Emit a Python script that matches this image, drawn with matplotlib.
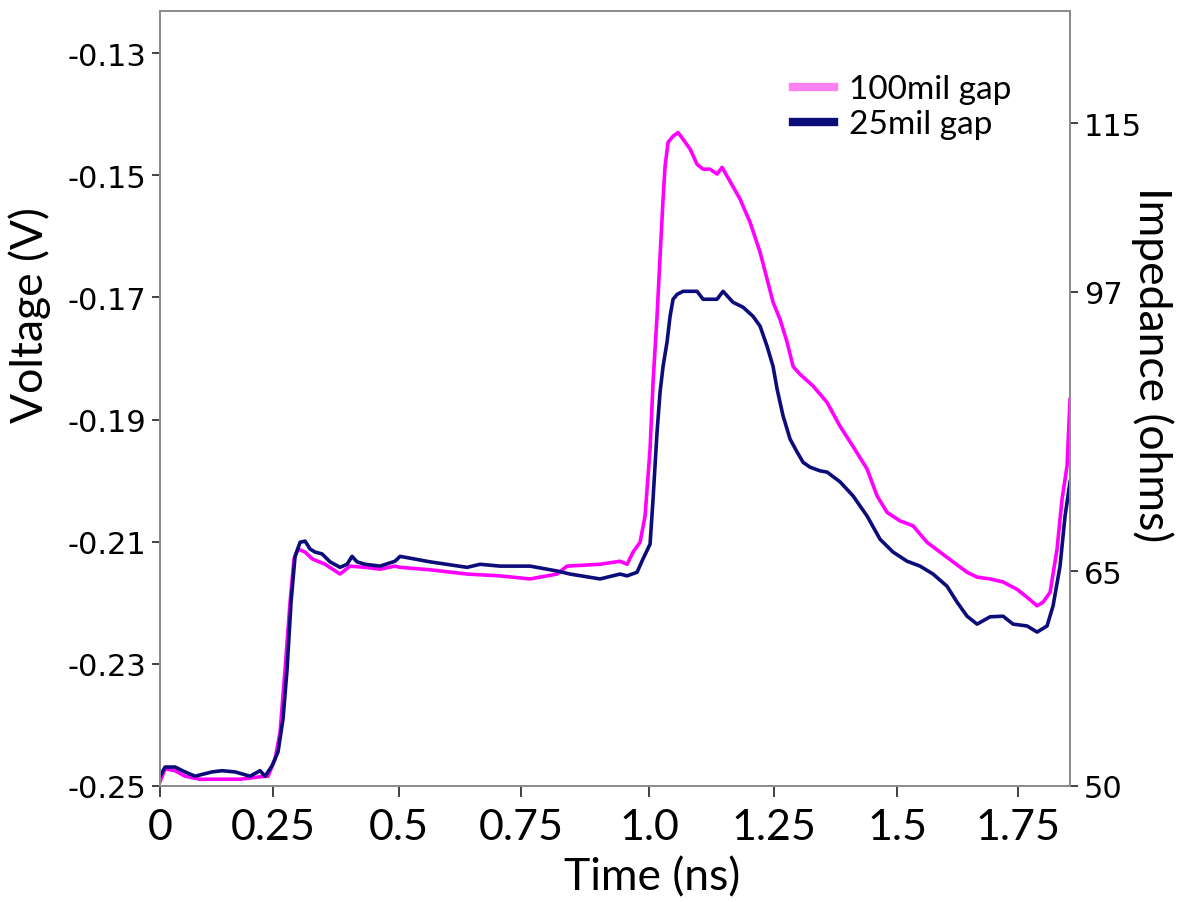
import matplotlib
matplotlib.use("Agg")
import matplotlib.pyplot as plt

# time (ns) and voltage (V)
t_100 = [0.0, 0.0102, 0.0306, 0.051, 0.0816, 0.1223, 0.1631, 0.2039, 0.2202, 0.2345,
         0.2447, 0.2549, 0.2651, 0.2732, 0.2814, 0.2957, 0.31, 0.3365, 0.367, 0.3874,
         0.418, 0.4486, 0.4792, 0.4894, 0.5506, 0.626, 0.6933, 0.7545, 0.8095, 0.8299,
         0.8972, 0.938, 0.9523, 0.9645, 0.9788, 0.989, 0.9992, 1.0053, 1.0134, 1.0196,
         1.0257, 1.0298, 1.0359, 1.0461, 1.0563, 1.0665, 1.0808, 1.095, 1.1073, 1.1215,
         1.1358, 1.146, 1.1623, 1.1827, 1.2031, 1.2235, 1.2378, 1.25, 1.2643, 1.2785,
         1.2908, 1.3051, 1.3316, 1.3601, 1.3866, 1.4131, 1.4417, 1.4621, 1.4825, 1.509,
         1.5355, 1.564, 1.5905, 1.617, 1.6456, 1.666, 1.6925, 1.719, 1.7475, 1.768,
         1.7884, 1.8006, 1.8149, 1.8291, 1.8393, 1.8495, 1.8556]
v_100 = [-0.2493, -0.2472, -0.2475, -0.2484, -0.2489, -0.2489, -0.2489, -0.2485, -0.2484, -0.2456,
         -0.2412, -0.2309, -0.2199, -0.2128, -0.2112, -0.2117, -0.2128, -0.2137, -0.2153, -0.2140,
         -0.2142, -0.2145, -0.2140, -0.2142, -0.2146, -0.2153, -0.2156, -0.2161, -0.2153, -0.2140,
         -0.2137, -0.2132, -0.2137, -0.2117, -0.2101, -0.2058, -0.1948, -0.1839, -0.1731, -0.1633,
         -0.1539, -0.1485, -0.1446, -0.1436, -0.1430, -0.1441, -0.1457, -0.1482, -0.1490, -0.1490,
         -0.1498, -0.1487, -0.1510, -0.1539, -0.1577, -0.1626, -0.1670, -0.1708, -0.1736, -0.1773,
         -0.1813, -0.1826, -0.1845, -0.1872, -0.1911, -0.1944, -0.1981, -0.2025, -0.2052, -0.2066,
         -0.2074, -0.2101, -0.2117, -0.2133, -0.2150, -0.2158, -0.2161, -0.2166, -0.2178, -0.2191,
         -0.2205, -0.2199, -0.2183, -0.2112, -0.2030, -0.1976, -0.1867]

t_25 = [0.0, 0.0102, 0.0306, 0.051, 0.0714, 0.106, 0.1264, 0.1529, 0.1835, 0.2039,
        0.2141, 0.2284, 0.2406, 0.2508, 0.259, 0.2671, 0.2753, 0.2855, 0.2957, 0.3059,
        0.3161, 0.3303, 0.3467, 0.367, 0.3813, 0.3915, 0.4017, 0.418, 0.4486, 0.4792,
        0.4894, 0.5506, 0.626, 0.6525, 0.6933, 0.7545, 0.8095, 0.8361, 0.8972, 0.938,
        0.9523, 0.9727, 0.9849, 0.9992, 1.0053, 1.0134, 1.0196, 1.0257, 1.0338, 1.04,
        1.0461, 1.0543, 1.0665, 1.095, 1.1073, 1.1358, 1.148, 1.1684, 1.1888, 1.2092,
        1.2235, 1.2378, 1.25, 1.2582, 1.2704, 1.2847, 1.2989, 1.3112, 1.3254, 1.3458,
        1.3601, 1.3866, 1.4131, 1.4417, 1.4682, 1.4947, 1.5233, 1.5498, 1.5763, 1.6048,
        1.6252, 1.6456, 1.666, 1.6925, 1.719, 1.7394, 1.768, 1.7884, 1.8087, 1.821,
        1.8352, 1.8454, 1.8556]
v_25 = [-0.2484, -0.2469, -0.2469, -0.2477, -0.2484, -0.2477, -0.2475, -0.2477, -0.2484, -0.2475,
        -0.2484, -0.2467, -0.2444, -0.2390, -0.2309, -0.2199, -0.2124, -0.2101, -0.2099, -0.2112,
        -0.2117, -0.2120, -0.2133, -0.2142, -0.2137, -0.2124, -0.2133, -0.2137, -0.2140, -0.2132,
        -0.2124, -0.2133, -0.2142, -0.2137, -0.2140, -0.2140, -0.2148, -0.2153, -0.2161, -0.2153,
        -0.2156, -0.2150, -0.2128, -0.2104, -0.2030, -0.1921, -0.1855, -0.1813, -0.1773, -0.1731,
        -0.1703, -0.1695, -0.1690, -0.1690, -0.1703, -0.1703, -0.1690, -0.1708, -0.1716, -0.1731,
        -0.1747, -0.1780, -0.1813, -0.1850, -0.1894, -0.1932, -0.1953, -0.1970, -0.1978, -0.1984,
        -0.1986, -0.2002, -0.2025, -0.2058, -0.2096, -0.2117, -0.2132, -0.2140, -0.2153, -0.2173,
        -0.2199, -0.2222, -0.2235, -0.2223, -0.2222, -0.2235, -0.2238, -0.2248, -0.2238, -0.2205,
        -0.2140, -0.2058, -0.2002]

x_tick_pos = [0, 0.2304, 0.4874, 0.7361, 0.9971, 1.252, 1.5029, 1.7496]
x_tick_labels = ["0", "0.25", "0.5", "0.75", "1.0", "1.25", "1.5", "1.75"]
v_ticks = [-0.13, -0.15, -0.17, -0.19, -0.21, -0.23, -0.25]
v_tick_labels = ["-0.13", "-0.15", "-0.17", "-0.19", "-0.21", "-0.23", "-0.25"]
z_tick_pos = [-0.1415, -0.1691, -0.2148, -0.25]
z_tick_labels = ["115", "97", "65", "50"]

lab_font = "Lato"
tick_font = "DejaVu Sans"
spine_col = "#8c8c8c"

fig = plt.figure(figsize=(11.9, 9.03), dpi=100)
ax = fig.add_axes([0.1345, 0.1285, 0.7647, 0.8582])

ax.plot(t_100, v_100, color="#ff00ff", lw=2.6, label="100mil gap")
ax.plot(t_25, v_25, color="#0c0c7a", lw=2.6, label="25mil gap")

ax.set_xlim(0, 1.8556)
ax.set_ylim(-0.25, -0.1231)
ax.set_xticks(x_tick_pos)
ax.set_xticklabels(x_tick_labels, fontsize=31, family=lab_font)
ax.set_yticks(v_ticks)
ax.set_yticklabels(v_tick_labels, fontsize=22, family=tick_font)
ax.tick_params(axis="x", length=8, width=1.3, color="#333333", pad=8)
ax.tick_params(axis="y", length=6, width=1.3, color="#333333", pad=4)

ax2 = ax.twinx()
ax2.set_ylim(ax.get_ylim())
ax2.set_yticks(z_tick_pos)
ax2.set_yticklabels(z_tick_labels, fontsize=22, family=tick_font)
ax2.tick_params(axis="y", length=6, width=1.3, color="#333333", pad=4)

for a in (ax, ax2):
    for s in a.spines.values():
        s.set_color(spine_col)
        s.set_linewidth(1.3)

# axis titles sit off-centre in the reference, so place them on the figure
fig.text(652 / 1190, 1 - 878 / 903, "Time (ns)", fontsize=32, family=lab_font,
         ha="center", va="center")
fig.text(30 / 1190, 1 - 315 / 903, "Voltage (V)", fontsize=32, family=lab_font,
         rotation=90, ha="center", va="center")
fig.text(1152 / 1190, 1 - 365 / 903, "Impedance (ohms)", fontsize=32, family=lab_font,
         rotation=270, ha="center", va="center")

leg = ax.legend(loc="upper left", bbox_to_anchor=(0.677, 0.94), frameon=False,
                prop={"family": lab_font, "size": 24}, handlelength=1.25,
                handletextpad=0.45, labelspacing=0.15, borderpad=0)
leg_cols = ["#ff80f0", "#0c0c7a"]
for h, c in zip(leg.get_lines(), leg_cols):
    h.set_linewidth(6)
    h.set_color(c)

fig.savefig("out.png", dpi=100)
